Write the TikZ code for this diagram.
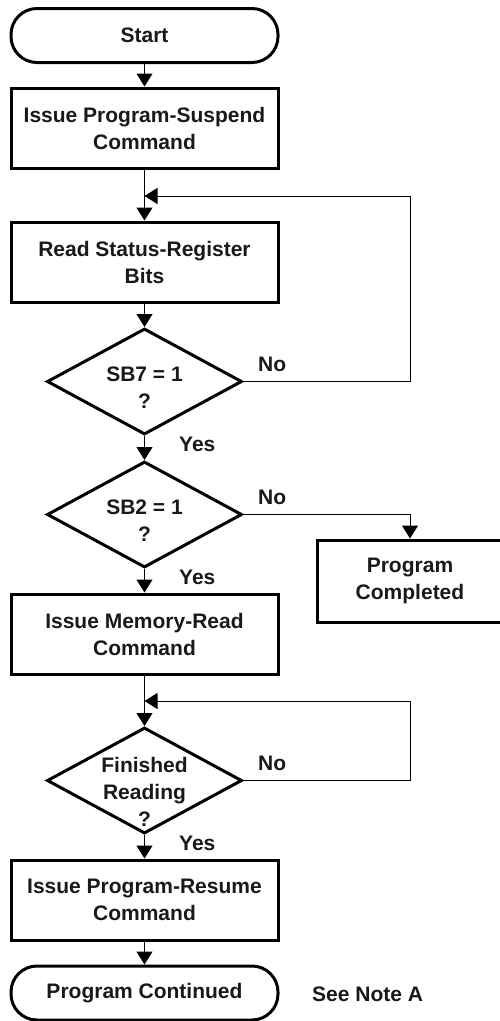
\documentclass[tikz,border=0pt]{standalone}
\usepackage{fontspec}
\setmainfont{Liberation Sans}
\usetikzlibrary{arrows.meta,shapes.geometric,calc}

\begin{document}
\begin{tikzpicture}[x=1pt,y=-1pt,
  every node/.style={font=\bfseries\fontsize{21}{27}\selectfont, align=center, text=black!90},
  procbox/.style={draw, line width=3pt, minimum width=267pt, minimum height=80pt, inner sep=0pt},
  termbox/.style={draw, line width=3pt, rounded corners=26pt, minimum width=267pt, minimum height=54pt, inner sep=0pt},
  decision/.style={draw, shape=diamond, line width=3pt, minimum width=195pt, minimum height=106pt, inner sep=0pt},
  flow/.style={line width=1pt, -{Triangle[length=13pt,width=16pt]}},
  link/.style={line width=1pt},
  tag/.style={anchor=west, inner sep=0pt}
]
\useasboundingbox (0,0) rectangle (500,1021);

% main column
\node[termbox]  (start) at (144.5,35.5) {Start};
\node[procbox]  (susp)  at (144.5,128)  {Issue Program-Suspend\\Command};
\coordinate     (m1)    at (144.5,196);
\coordinate     (r1)    at (410,196);
\node[procbox]  (rsr)   at (144.5,262)  {Read Status-Register\\Bits};
\node[decision] (d1)    at (144.5,381.5) {};
\node at ($(d1.center)+(0,6)$) {SB7 = 1\\?};
\node[decision] (d2)    at (144.5,514.5) {};
\node at ($(d2.center)+(0,6)$) {SB2 = 1\\?};
\node[procbox]  (mem)   at (144.5,634)  {Issue Memory-Read\\Command};
\coordinate     (m2)    at (144.5,701);
\coordinate     (r2)    at (410,701);
\node[decision] (d3)    at (144.5,780.5) {};
\node at ($(d3.center)+(0,11)$) {Finished\\Reading\\?};
\node[procbox]  (res)   at (144.5,900)  {Issue Program-Resume\\Command};
\node[termbox]  (cont)  at (144.5,993)  {Program Continued};

% side branch
\node[procbox, minimum width=186pt, minimum height=82pt] (done) at (410,581) {Program\\Completed};
\node[tag] (note) at (312,994) {See Note A};

% labels on the decision exits
\node[tag] (no1)  at (258,364) {No};
\node[tag] (yes1) at (179,444) {Yes};
\node[tag] (no2)  at (258,497) {No};
\node[tag] (yes2) at (179,577) {Yes};
\node[tag] (no3)  at (258,763) {No};
\node[tag] (yes3) at (179,843) {Yes};

% connectors
\draw[flow] (start) -- (susp);
\draw[flow] (susp) -- (rsr);
\draw[flow] (rsr) -- (d1);
\draw[flow] (d1) -- (d2);
\draw[flow] (d2) -- (mem);
\draw[flow] (mem) -- (d3);
\draw[flow] (d3) -- (res);
\draw[flow] (res) -- (cont);
\draw[flow] (d2.east) -| (done.north);
\draw[link] (d1.east) -| (r1);
\draw[flow] (r1) -- (m1);
\draw[link] (d3.east) -| (r2);
\draw[flow] (r2) -- (m2);
\end{tikzpicture}
\end{document}
